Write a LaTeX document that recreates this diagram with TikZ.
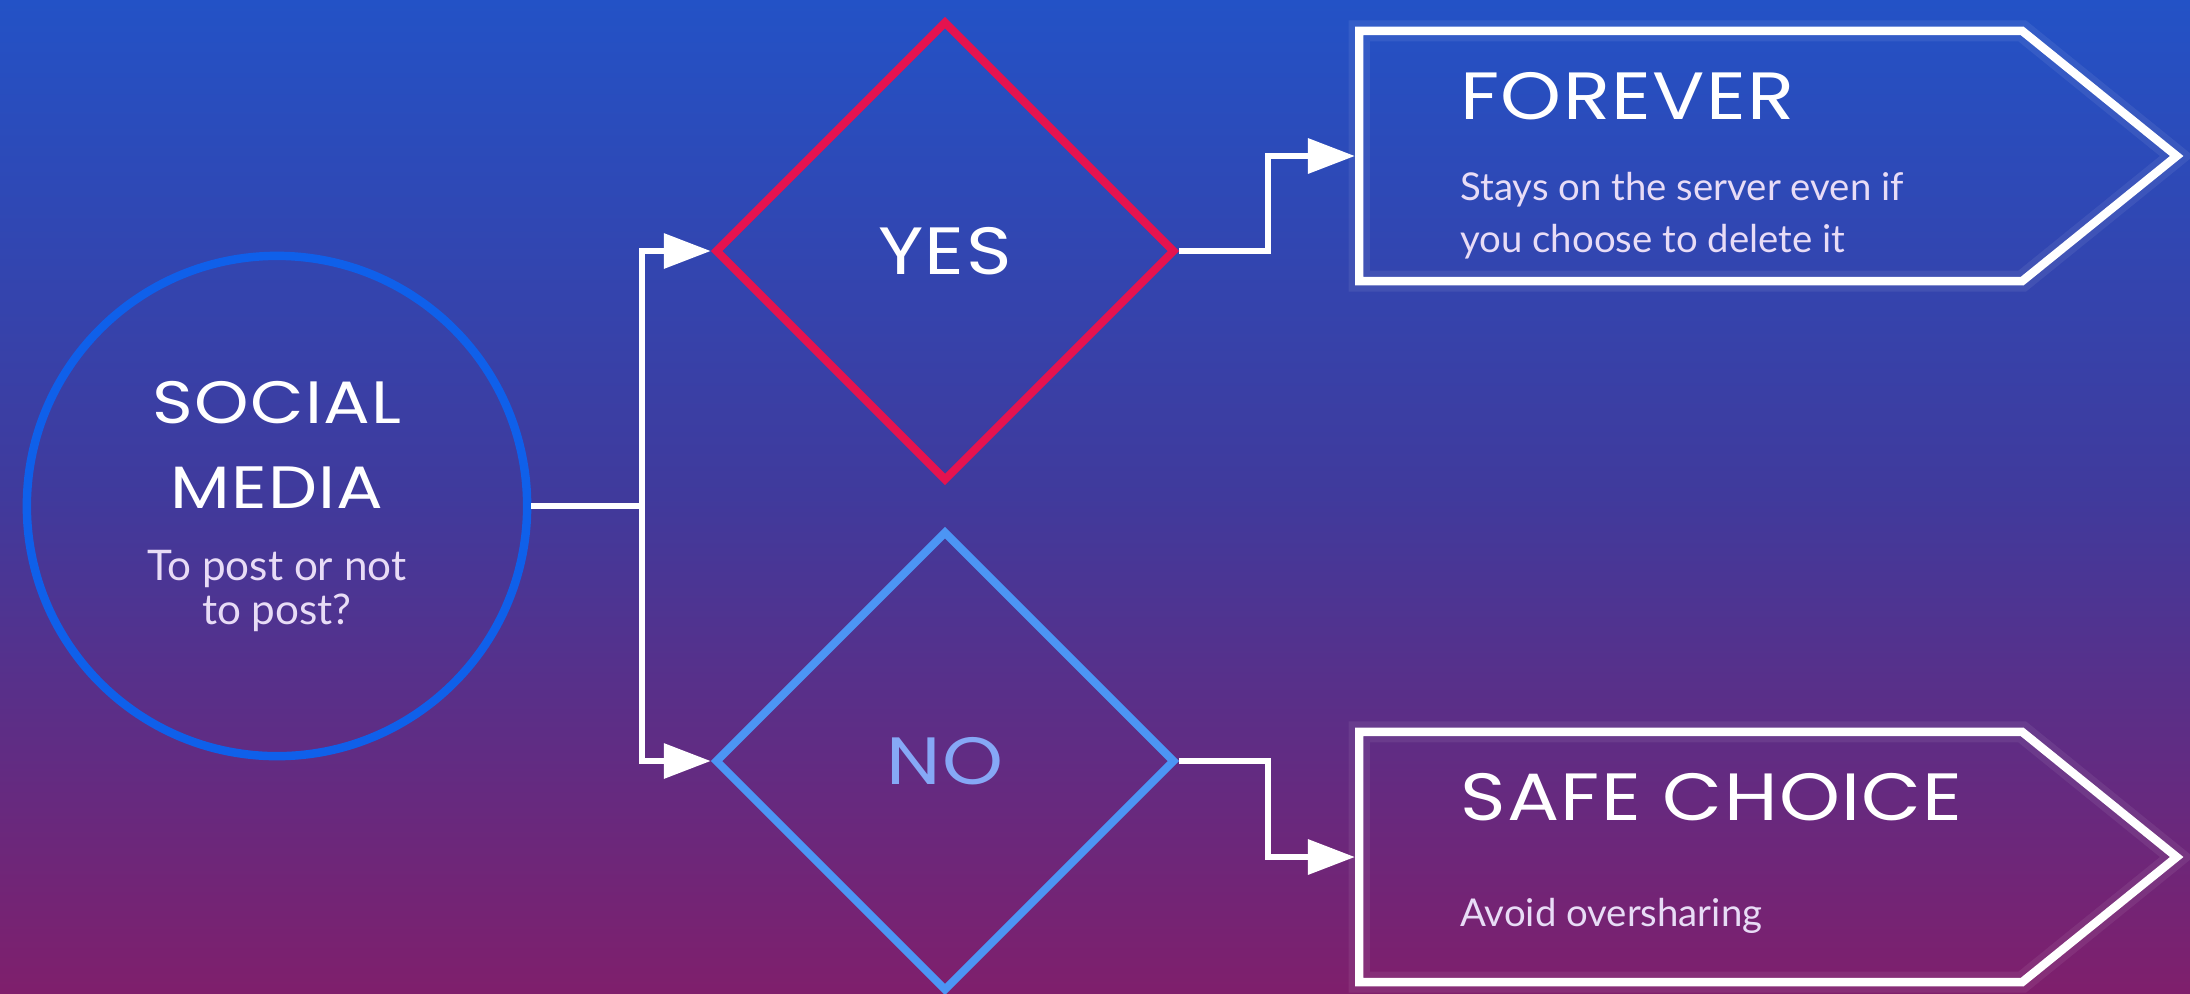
\documentclass[tikz,border=0pt]{standalone}
\usepackage{fontspec}
\setmainfont{Poppins}
\newfontfamily\headfont{Poppins}[FakeStretch=1.16, LetterSpace=2]
\newfontfamily\bodyfont{Lato}
\usetikzlibrary{shapes.geometric,shapes.symbols,arrows.meta}

\definecolor{bgtop}{HTML}{2352C6}
\definecolor{bgmid}{HTML}{403A9C}
\definecolor{bgbot}{HTML}{7F1F6C}
\definecolor{ringblue}{HTML}{0F60EA}
\definecolor{yesred}{HTML}{E5134F}
\definecolor{noblue}{HTML}{4C95F4}
\definecolor{notext}{HTML}{86A8F6}
\definecolor{subtext}{HTML}{E8DCF6}

\begin{document}
\begin{tikzpicture}[x=0.01cm, y=-0.01cm,
    glow/.style={preaction={draw, white, opacity=0.07, line width=6pt}},
    ring/.style={circle, draw=ringblue, line width=2.4pt, minimum size=5cm},
    choice/.style={diamond, line width=2.3pt, minimum width=4.6cm, minimum height=4.6cm, font=\headfont\fontsize{19}{22}\selectfont},
    outcome/.style={signal, signal to=east, signal pointer angle=78, draw=white, line width=2.4pt, minimum width=8.17cm, minimum height=2.5cm, anchor=west, glow},
    link/.style={draw=white, line width=1.8pt},
    arr/.style={link, -{Triangle[length=0.47cm, width=0.34cm]}},
    title/.style={text=white, font=\headfont\fontsize{17}{24}\selectfont, align=center},
    head/.style={anchor=base west, text=white, font=\headfont\fontsize{19}{22}\selectfont},
    body/.style={text=subtext, font=\bodyfont\fontsize{10.9}{14.7}\selectfont, align=left}]
    \useasboundingbox (0, 0) rectangle (2190, 993);
    \fill[top color=bgtop, bottom color=bgbot, middle color=bgmid] (0, 0) rectangle (2190, 993);

    % start: the question
    \node[ring] (social) at (277, 506) {};
    \node[title] (socialtitle) at (277, 445) {SOCIAL\\MEDIA};
    \node[body, align=center, font=\bodyfont\fontsize{12}{12.4}\selectfont] (socialsub) at (277, 591) {To post or not\\to post?};

    % the two answers
    \node[choice, draw=yesred, text=white] (yes) at (945, 251) {YES};
    \node[choice, draw=noblue, text=notext] (no) at (945, 761) {NO};

    % what follows
    \node[outcome] (forever) at (1355, 156) {};
    \node[head] (forevertitle) at (1448, 119) {FOREVER};
    \node[body, anchor=west] (foreverbody) at (1448, 216) {Stays on the server even if\\you choose to delete it};
    \node[outcome] (safe) at (1355, 857) {};
    \node[head] (safetitle) at (1448, 820) {SAFE CHOICE};
    \node[body, anchor=base west] (safebody) at (1448, 926) {Avoid oversharing};

    % connectors
    \coordinate (split) at (642, 506);
    \coordinate (yesbend) at (1268, 251);
    \coordinate (nobend) at (1268, 761);
    \draw[link] (social.east) -- (split);
    \draw[arr] (split) |- (yes.west);
    \draw[arr] (split) |- (no.west);
    \draw[arr] (yes.east) -- (yesbend) |- (forever.west);
    \draw[arr] (no.east) -- (nobend) |- (safe.west);
\end{tikzpicture}
\end{document}
